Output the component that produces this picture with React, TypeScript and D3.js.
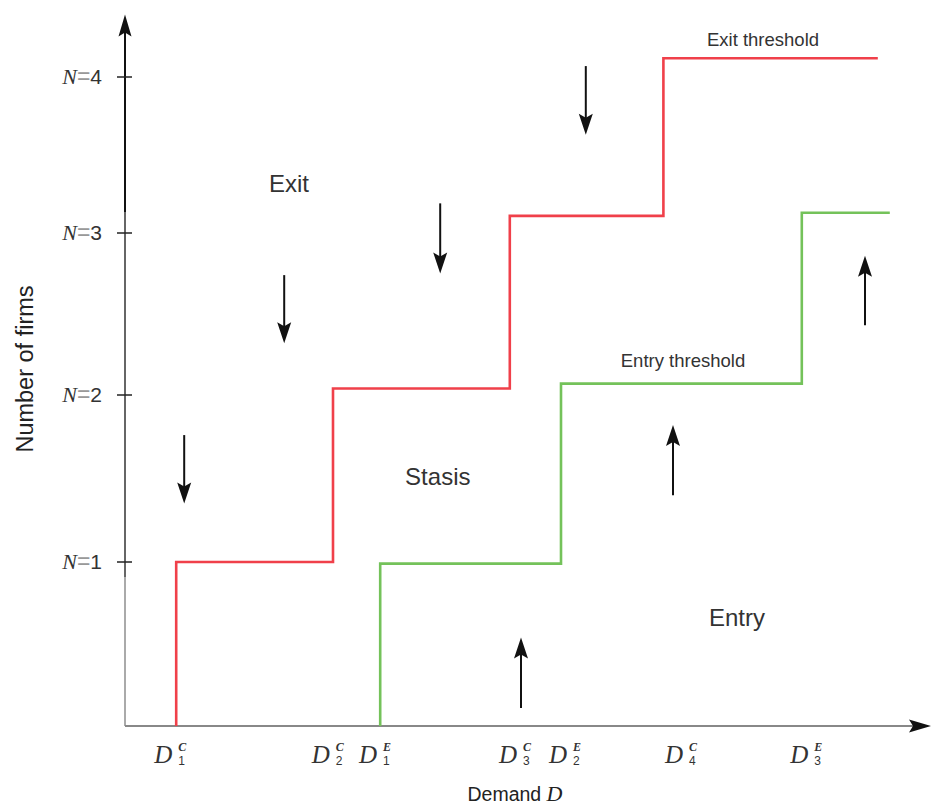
import React from 'react';
import * as d3 from 'd3';

// demand thresholds (x, arbitrary demand units 0-100) and firm levels
const exitThresholds = [6.4, 26.0, 48.1, 67.3]; // D1C..D4C
const exitLevels = [1.0, 2.04, 3.11, 4.12];
const exitEnd = 94.1;
const entryThresholds = [31.9, 54.5, 84.6]; // D1E..D3E
const entryLevels = [0.99, 2.07, 3.13];
const entryEnd = 95.6;

const firmTicks = [1, 2, 3, 4];
const firmTickLabels = ['1', '2', '3', '4'];

// tick labels under the x axis, ordered as drawn
const demandSup = ['C', 'C', 'E', 'C', 'E', 'C', 'E'];
const demandSub = ['1', '2', '1', '3', '2', '4', '3'];
const demandLabelAt = [5.9, 25.6, 31.5, 49.0, 55.25, 69.75, 85.4];

// direction arrows: x, from y, to y (tip)
const arrowX = [7.4, 19.9, 39.4, 57.6, 49.5, 68.5, 92.5];
const arrowFrom = [1.76, 2.74, 3.19, 4.07, 0.11, 1.40, 2.43];
const arrowTo = [1.35, 2.32, 2.75, 3.63, 0.54, 1.82, 2.86];

const regionNames = ['Exit', 'Stasis', 'Entry'];
const regionX = [20.5, 39.1, 76.5];
const regionY = [3.26, 1.46, 0.61];

const xMax = 100;
const yMax = 4.4;

const RED = '#f0404a';
const GREEN = '#74c25a';
const INK = '#222';
const SANS = '"Liberation Sans", Arial, sans-serif';
const SERIF = '"Liberation Serif", "Times New Roman", serif';

const W = 932;
const H = 807;

function head(tx: number, ty: number, dir: 'up' | 'down' | 'right', len = 20, half = 6.5) {
  // filled arrowhead with a small notch at the back
  const notch = 4;
  if (dir === 'right') {
    return `M${tx},${ty}L${tx - len},${ty - half}L${tx - len + notch},${ty}L${tx - len},${ty + half}Z`;
  }
  const s = dir === 'down' ? -1 : 1;
  return `M${tx},${ty}L${tx - half},${ty + s * len}L${tx},${ty + s * (len - notch)}L${tx + half},${ty + s * len}Z`;
}

export default function App() {
  const x = d3.scaleLinear().domain([0, xMax]).range([125, 925]);
  const y = d3.scaleLinear().domain([0, 1, 2, 3, 4]).range([726, 562, 395, 233, 77]);

  const step = d3
    .line<[number, number]>()
    .x((d) => x(d[0]))
    .y((d) => y(d[1]))
    .curve(d3.curveStepAfter);

  const exitPts: [number, number][] = [[exitThresholds[0], 0]];
  exitThresholds.forEach((t, i) => exitPts.push([t, exitLevels[i]]));
  exitPts.push([exitEnd, exitLevels[exitLevels.length - 1]]);

  const entryPts: [number, number][] = [[entryThresholds[0], 0]];
  entryThresholds.forEach((t, i) => entryPts.push([t, entryLevels[i]]));
  entryPts.push([entryEnd, entryLevels[entryLevels.length - 1]]);

  const x0 = x(0);
  const y0 = y(0);

  return (
    <svg width={W} height={H} style={{ position: 'absolute', left: 0, top: 0, background: '#fff' }}>
      {/* y axis */}
      <line x1={x0} x2={x0} y1={y(yMax) + 10} y2={212} stroke="#111" strokeWidth={2} />
      <line x1={x0} x2={x0} y1={212} y2={577} stroke="#666" strokeWidth={2} />
      <line x1={x0} x2={x0} y1={577} y2={y0} stroke="#aaa" strokeWidth={2} />
      <path d={head(x0, y(yMax), 'up', 22, 6.5)} fill="#111" />
      {firmTicks.map((t, i) => (
        <g key={t}>
          <line x1={x0 - 8} x2={x0 + 7} y1={y(t)} y2={y(t)} stroke="#222" strokeWidth={1.5} />
          <text x={102} y={y(t) + 7} textAnchor="end" fontSize={21} fill="#333">
            <tspan fontFamily={SERIF} fontStyle="italic" fontSize={22}>N</tspan>
            <tspan fontFamily={SANS} fill="#999" fontSize={23}>=</tspan>
            <tspan fontFamily={SANS}>{firmTickLabels[i]}</tspan>
          </text>
        </g>
      ))}
      <text
        transform={`translate(33, 369) rotate(-90)`}
        textAnchor="middle"
        fontFamily={SANS}
        fontSize={23.5}
        fill={INK}
      >
        Number of firms
      </text>

      {/* x axis */}
      <line x1={x0} x2={x(xMax) - 10} y1={y0} y2={y0} stroke="#888" strokeWidth={2} />
      <path d={head(x(xMax) + 6, y0, 'right', 22, 6.5)} fill="#111" />
      {demandLabelAt.map((v, i) => {
        const lx = x(v);
        return (
          <g key={i} fill="#333">
            <text x={lx} y={763} textAnchor="end" fontFamily={SERIF} fontStyle="italic" fontSize={25}>
              D
            </text>
            <text x={lx + 6} y={751} fontFamily={SERIF} fontStyle="italic" fontWeight="bold" fontSize={12}>
              {demandSup[i]}
            </text>
            <text x={lx + 6} y={765} fontFamily={SANS} fontSize={12}>
              {demandSub[i]}
            </text>
          </g>
        );
      })}
      <text x={515} y={801} textAnchor="middle" fontSize={19.5} fill={INK}>
        <tspan fontFamily={SANS}>Demand </tspan>
        <tspan fontFamily={SERIF} fontStyle="italic" fontSize={22}>D</tspan>
      </text>

      {/* thresholds */}
      <path d={step(exitPts) ?? ''} fill="none" stroke={RED} strokeWidth={2.6} />
      <path d={step(entryPts) ?? ''} fill="none" stroke={GREEN} strokeWidth={2.6} />
      <text x={x(79.75)} y={y(4.2)} textAnchor="middle" fontFamily={SANS} fontSize={18.5} fill="#333">
        Exit threshold
      </text>
      <text x={x(69.75)} y={y(2.17)} textAnchor="middle" fontFamily={SANS} fontSize={18.5} fill="#333">
        Entry threshold
      </text>

      {/* direction arrows */}
      {arrowX.map((ax, i) => {
        const px = x(ax);
        const fy = y(arrowFrom[i]);
        const ty = y(arrowTo[i]);
        const dir = ty > fy ? 'down' : 'up';
        const back = dir === 'down' ? ty - 16 : ty + 16;
        return (
          <g key={i}>
            <line x1={px} x2={px} y1={fy} y2={back} stroke="#111" strokeWidth={2} />
            <path d={head(px, ty, dir, 21, 7)} fill="#111" />
          </g>
        );
      })}

      {/* region labels */}
      {regionNames.map((n, i) => (
        <text
          key={n}
          x={x(regionX[i])}
          y={y(regionY[i])}
          textAnchor="middle"
          fontFamily={SANS}
          fontSize={24}
          fill="#333"
        >
          {n}
        </text>
      ))}
    </svg>
  );
}
